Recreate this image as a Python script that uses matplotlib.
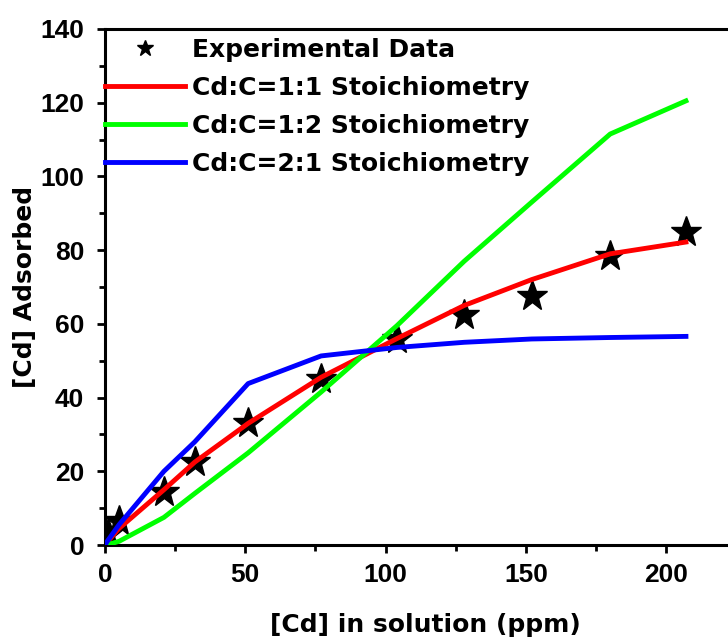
import matplotlib
matplotlib.use("Agg")
import matplotlib.pyplot as plt
from matplotlib.ticker import MultipleLocator

# Cd concentration in solution (ppm)
cd_solution = [1, 5, 21, 32, 51, 77, 104, 128, 152, 180, 207]
# measured Cd adsorbed
cd_adsorbed = [3, 6.5, 14.5, 22.5, 33, 45, 56, 62.5, 67.5, 78.5, 85]

# model curves evaluated on the same grid (with origin)
model_x = [0, 1, 5, 21, 32, 51, 77, 104, 128, 152, 180, 207]
model_1_1 = [0, 1, 4.5, 15, 22.5, 33, 45.5, 56, 65, 72, 79, 82.2]
model_1_2 = [0, 0.1, 1, 7.5, 14, 25, 41.5, 59.5, 77, 93, 111.5, 120.5]
model_2_1 = [0, 1.2, 5.5, 20, 28, 43.8, 51.3, 53.6, 55, 55.9, 56.3, 56.6]

series_labels = ["Experimental Data",
                 "Cd:C=1:1 Stoichiometry",
                 "Cd:C=1:2 Stoichiometry",
                 "Cd:C=2:1 Stoichiometry"]

TICK_FONT = ["Liberation Sans", "DejaVu Sans"]
LABEL_FONT = ["DejaVu Sans"]

plt.rcParams["font.family"] = TICK_FONT
plt.rcParams["font.weight"] = "bold"

fig = plt.figure(figsize=(7.28, 6.40), dpi=100)
ax = fig.add_axes([0.1442, 0.1484, 0.879, 0.8063])

ax.plot(cd_solution, cd_adsorbed, linestyle="none", marker="*",
        markersize=23, color="black", zorder=2, label=series_labels[0])
ax.plot(model_x, model_1_1, color="#ff0000", lw=3.5, zorder=3, label=series_labels[1])
ax.plot(model_x, model_1_2, color="#00ff00", lw=3.5, zorder=3, label=series_labels[2])
ax.plot(model_x, model_2_1, color="#0000ff", lw=3.5, zorder=3, label=series_labels[3])

ax.set_xlim(0, 228)
ax.set_ylim(0, 140)
ax.xaxis.set_major_locator(MultipleLocator(50))
ax.xaxis.set_minor_locator(MultipleLocator(25))
ax.yaxis.set_major_locator(MultipleLocator(20))
ax.yaxis.set_minor_locator(MultipleLocator(10))

for side in ("left", "bottom", "top"):
    ax.spines[side].set_linewidth(2.2)
ax.spines["right"].set_visible(False)

ax.tick_params(which="major", direction="out", length=6, width=2, labelsize=19)
ax.tick_params(axis="y", which="major", pad=9)
ax.tick_params(axis="x", which="major", pad=7)
ax.tick_params(which="minor", direction="out", length=4, width=2)
ax.tick_params(top=False, right=False, which="both")
for lbl in ax.get_xticklabels() + ax.get_yticklabels():
    lbl.set_fontweight("bold")

ax.set_xlabel("[Cd] in solution (ppm)", fontsize=18, fontweight="bold",
              family=LABEL_FONT, labelpad=19)
ax.set_ylabel("[Cd] Adsorbed", fontsize=18, fontweight="bold",
              family=LABEL_FONT, labelpad=2)

leg = ax.legend(loc="upper left", bbox_to_anchor=(0.0, 0.983), frameon=False,
                prop={"family": LABEL_FONT, "size": 18, "weight": "bold"},
                handlelength=3.2, handletextpad=0.28,
                labelspacing=0.56, borderaxespad=0, borderpad=0)
leg.legend_handles[0].set_markersize(12)

fig.savefig("out.png", dpi=100)
